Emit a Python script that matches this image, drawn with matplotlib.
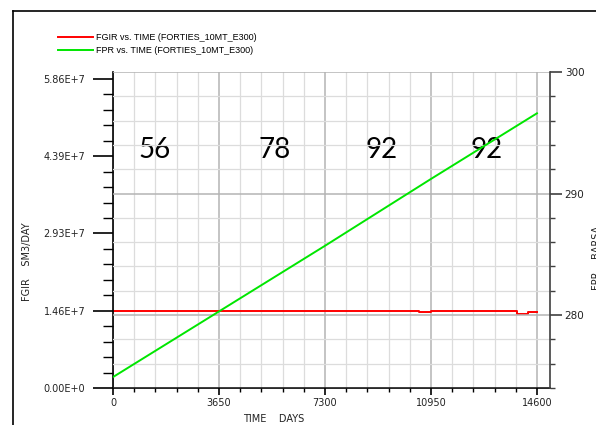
import numpy as np
import matplotlib
matplotlib.use("Agg")
import matplotlib.pyplot as plt
from matplotlib.lines import Line2D
from matplotlib.ticker import FixedLocator, FixedFormatter, MultipleLocator

# datos
fgir_t = [0, 10540, 10950, 13910, 14290, 14600]
fgir = [1.467e7, 1.435e7, 1.467e7, 1.41e7, 1.45e7, 1.45e7]

fpr_t = [0, 3650, 7300, 10950, 14600]
fpr = [274.9, 280.3, 285.7, 291.2, 296.6]

# numeros escritos dentro del grafico
ann_txt = ["56", "78", "92", "92"]
ann_x = [1446, 5578, 9263, 12878]
ann_y = 4.51e7

x_ticks = [0, 3650, 7300, 10950, 14600]
y_ticks = [0, 1.465e7, 2.93e7, 4.395e7, 5.86e7]
y_labels = ["0.00E+0", "1.46E+7", "2.93E+7", "4.39E+7", "5.86E+7"]
y2_ticks = [280, 290, 300]

W, H = 596, 425
fig = plt.figure(figsize=(W / 100, H / 100), dpi=100)
ax = fig.add_axes([113 / W, 37 / H, 437 / W, 316 / H])
ax2 = ax.twinx()

# rejilla vertical (eje izquierdo)
ax.set_xlim(0, 15050)
ax.xaxis.set_major_locator(FixedLocator(x_ticks))
ax.xaxis.set_minor_locator(MultipleLocator(730))
ax.grid(which="minor", axis="x", color="#dcdcdc", lw=0.9)
ax.grid(which="major", axis="x", color="#b4b4b4", lw=1.1)
ax.set_axisbelow(True)

ax.plot(fgir_t, fgir, color="#ff0000", lw=1.4, drawstyle="steps-post",
        label="FGIR vs. TIME (FORTIES_10MT_E300)")
ax.set_ylim(0, 5.99e7)
ax.yaxis.set_major_locator(FixedLocator(y_ticks))
ax.yaxis.set_major_formatter(FixedFormatter(y_labels))
ax.yaxis.set_minor_locator(FixedLocator(np.arange(0, 5.87e7, 2.93e6)))
ax.set_xticklabels([str(v) for v in x_ticks])

ax.tick_params(axis="y", which="major", length=14.4, width=1.2, pad=5.5,
               labelsize=7, labelcolor="#222222")
ax.tick_params(axis="y", which="minor", length=7.2, width=1.0)
ax.tick_params(axis="x", which="major", length=5, width=1.2, pad=2,
               labelsize=7, labelcolor="#222222")
ax.tick_params(axis="x", which="minor", length=3, width=1.0)

for s in ["top", "right"]:
    ax.spines[s].set_visible(False)
ax.spines["left"].set_linewidth(1.2)
ax.spines["bottom"].set_linewidth(1.2)

# eje derecho
ax2.plot(fpr_t, fpr, color="#00e600", lw=1.4, label="FPR vs. TIME (FORTIES_10MT_E300)")
ax2.set_ylim(274, 300)
ax2.yaxis.set_major_locator(FixedLocator(y2_ticks))
ax2.yaxis.set_minor_locator(MultipleLocator(2))
ax2.grid(which="minor", axis="y", color="#dcdcdc", lw=0.9)
ax2.grid(which="major", axis="y", color="#b4b4b4", lw=1.1)
ax2.set_axisbelow(True)
ax2.tick_params(axis="y", which="major", length=8.6, width=1.2, pad=2,
                labelsize=7.5, color="#404040", labelcolor="#222222")
ax2.tick_params(axis="y", which="minor", length=3.6, width=1.0, color="#404040")
for s in ["top", "left", "bottom"]:
    ax2.spines[s].set_visible(False)
ax2.spines["right"].set_color("#404040")
ax2.spines["right"].set_linewidth(1.2)

for t, x in zip(ann_txt, ann_x):
    ax.text(x, ann_y, t, fontsize=20, family="Lato", ha="center", va="center",
            color="black", zorder=5)

# etiquetas de ejes
fig.text(274 / W, 1 - 419 / H, "TIME    DAYS", fontsize=7, ha="center", va="center",
         color="#222222")
fig.text(27 / W, 1 - 262 / H, "FGIR    SM3/DAY", fontsize=7, rotation=90,
         ha="center", va="center", color="#222222")
fig.text(597 / W, 1 - 258 / H, "FPR    BARSA", fontsize=7, rotation=90,
         ha="center", va="center", color="#222222")

# leyenda arriba a la izquierda
h1, l1 = ax.get_legend_handles_labels()
h2, l2 = ax2.get_legend_handles_labels()
fig.legend(h1 + h2, l1 + l2, loc="upper left", bbox_to_anchor=(58 / W, 1 - 33 / H),
           frameon=False, fontsize=6.5, prop={"family": "Liberation Sans", "size": 6.5},
           handlelength=3.9, handletextpad=0.35, labelspacing=0.45, borderpad=0,
           borderaxespad=0)

# marco del borde
fig.add_artist(Line2D([13 / W, 13 / W], [0, 1 - 11 / H], color="black", lw=1.2))
fig.add_artist(Line2D([13 / W, 1], [1 - 11 / H, 1 - 11 / H], color="black", lw=1.2))

fig.savefig("out.png", dpi=100)
